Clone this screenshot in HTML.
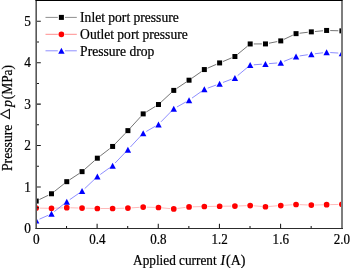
<!DOCTYPE html>
<html><head><meta charset="utf-8"><title>Pressure vs applied current</title>
<style>
html,body{margin:0;padding:0;background:#fff;}
svg{display:block;}
text{font-family:"Liberation Serif","Times New Roman",serif;font-size:14px;fill:#000;stroke:#000;stroke-width:0.22px;}
</style></head><body>
<svg width="350" height="268" viewBox="0 0 350 268">
<defs><clipPath id="c"><rect x="35.3" y="0" width="307.7" height="229"/></clipPath></defs>
<rect width="350" height="268" fill="#fff"/>
<g clip-path="url(#c)"><path d="M39.45 199.51L48.24 195.31M54.31 191.53L63.95 183.90M69.78 179.69L79.04 173.62M84.76 169.26L94.64 160.56M100.20 155.99L109.77 148.64M115.13 143.86L125.41 133.21M130.34 127.97L140.77 116.55M146.26 112.01L155.41 106.40M161.12 102.08L171.12 92.84M176.76 88.40L186.05 82.20M192.00 78.15L201.38 71.62M207.64 68.13L216.32 64.36M222.94 61.53L231.59 57.90M237.69 54.22L247.41 46.24M253.79 43.94L261.88 43.92M269.01 43.21L277.23 41.59M284.01 39.34L292.79 35.18M299.62 33.22L307.75 32.27M314.91 31.53L323.03 30.78M330.21 30.55L338.30 30.76" stroke="#000" stroke-width="0.55" fill="none" opacity="1"/><rect x="33.70" y="198.56" width="5.0" height="5.0" fill="#000"/><rect x="48.98" y="191.26" width="5.0" height="5.0" fill="#000"/><rect x="64.27" y="179.17" width="5.0" height="5.0" fill="#000"/><rect x="79.56" y="169.14" width="5.0" height="5.0" fill="#000"/><rect x="94.84" y="155.68" width="5.0" height="5.0" fill="#000"/><rect x="110.12" y="143.95" width="5.0" height="5.0" fill="#000"/><rect x="125.41" y="128.13" width="5.0" height="5.0" fill="#000"/><rect x="140.69" y="111.39" width="5.0" height="5.0" fill="#000"/><rect x="155.98" y="102.02" width="5.0" height="5.0" fill="#000"/><rect x="171.26" y="87.90" width="5.0" height="5.0" fill="#000"/><rect x="186.55" y="77.70" width="5.0" height="5.0" fill="#000"/><rect x="201.84" y="67.06" width="5.0" height="5.0" fill="#000"/><rect x="217.12" y="60.43" width="5.0" height="5.0" fill="#000"/><rect x="232.41" y="54.01" width="5.0" height="5.0" fill="#000"/><rect x="247.69" y="41.45" width="5.0" height="5.0" fill="#000"/><rect x="262.97" y="41.41" width="5.0" height="5.0" fill="#000"/><rect x="278.26" y="38.39" width="5.0" height="5.0" fill="#000"/><rect x="293.54" y="31.14" width="5.0" height="5.0" fill="#000"/><rect x="308.83" y="29.36" width="5.0" height="5.0" fill="#000"/><rect x="324.11" y="27.95" width="5.0" height="5.0" fill="#000"/><rect x="339.40" y="28.36" width="5.0" height="5.0" fill="#000"/><path d="M39.80 208.15L47.89 208.26M55.08 208.16L63.17 207.83M70.37 207.78L78.46 208.00M85.65 208.20L93.74 208.42M100.94 208.51L109.03 208.51M116.22 208.42L124.31 208.20M131.50 207.87L139.60 207.34M146.79 207.20L154.88 207.42M162.06 207.85L170.18 208.60M177.33 208.46L185.48 207.40M192.65 206.84L200.74 206.62M207.93 206.46L216.02 206.30M223.22 206.21L231.31 206.14M238.50 205.97L246.59 205.67M253.78 205.81L261.89 206.45M269.06 206.45L277.17 205.81M284.35 205.29L292.45 204.74M299.64 204.64L307.73 204.97M314.93 205.02L323.02 204.80M330.21 204.62L338.30 204.45" stroke="#f00" stroke-width="0.5" fill="none" opacity="0.55"/><circle cx="36.20" cy="208.10" r="2.85" fill="#f00"/><circle cx="51.48" cy="208.31" r="2.85" fill="#f00"/><circle cx="66.77" cy="207.69" r="2.85" fill="#f00"/><circle cx="82.06" cy="208.10" r="2.85" fill="#f00"/><circle cx="97.34" cy="208.51" r="2.85" fill="#f00"/><circle cx="112.62" cy="208.51" r="2.85" fill="#f00"/><circle cx="127.91" cy="208.10" r="2.85" fill="#f00"/><circle cx="143.19" cy="207.10" r="2.85" fill="#f00"/><circle cx="158.48" cy="207.52" r="2.85" fill="#f00"/><circle cx="173.76" cy="208.93" r="2.85" fill="#f00"/><circle cx="189.05" cy="206.94" r="2.85" fill="#f00"/><circle cx="204.34" cy="206.52" r="2.85" fill="#f00"/><circle cx="219.62" cy="206.23" r="2.85" fill="#f00"/><circle cx="234.91" cy="206.11" r="2.85" fill="#f00"/><circle cx="250.19" cy="205.53" r="2.85" fill="#f00"/><circle cx="265.47" cy="206.73" r="2.85" fill="#f00"/><circle cx="280.76" cy="205.53" r="2.85" fill="#f00"/><circle cx="296.04" cy="204.49" r="2.85" fill="#f00"/><circle cx="311.33" cy="205.12" r="2.85" fill="#f00"/><circle cx="326.61" cy="204.70" r="2.85" fill="#f00"/><circle cx="341.90" cy="204.37" r="2.85" fill="#f00"/><path d="M39.49 219.15L48.20 215.28M54.31 211.58L63.95 203.95M69.73 199.67L79.10 193.17M84.67 188.64L94.73 179.09M100.26 174.51L109.70 167.73M115.12 163.03L125.42 152.28M130.36 147.05L140.74 135.87M146.31 131.44L155.36 126.21M160.99 121.83L171.25 111.33M176.90 106.99L185.91 101.94M191.99 98.10L201.40 91.44M207.72 88.12L216.24 85.00M222.98 82.47L231.55 79.18M237.66 75.57L247.43 67.39M253.78 64.81L261.89 64.20M269.06 63.63L277.17 62.97M284.09 61.32L292.71 57.82M299.61 55.93L307.77 54.72M314.90 53.75L323.04 52.76M330.21 52.55L338.31 53.05" stroke="#00f" stroke-width="0.6" fill="none" opacity="0.75"/><path d="M33.00 223.61L39.40 223.61L36.20 217.61Z" fill="#00f"/><path d="M48.28 216.82L54.69 216.82L51.48 210.82Z" fill="#00f"/><path d="M63.57 204.72L69.97 204.72L66.77 198.72Z" fill="#00f"/><path d="M78.86 194.11L85.26 194.11L82.06 188.11Z" fill="#00f"/><path d="M94.14 179.61L100.54 179.61L97.34 173.61Z" fill="#00f"/><path d="M109.42 168.63L115.83 168.63L112.62 162.63Z" fill="#00f"/><path d="M124.71 152.68L131.11 152.68L127.91 146.68Z" fill="#00f"/><path d="M140.00 136.24L146.39 136.24L143.19 130.24Z" fill="#00f"/><path d="M155.28 127.41L161.68 127.41L158.48 121.41Z" fill="#00f"/><path d="M170.56 111.75L176.96 111.75L173.76 105.75Z" fill="#00f"/><path d="M185.85 103.17L192.25 103.17L189.05 97.17Z" fill="#00f"/><path d="M201.14 92.36L207.54 92.36L204.34 86.36Z" fill="#00f"/><path d="M216.42 86.77L222.82 86.77L219.62 80.77Z" fill="#00f"/><path d="M231.71 80.88L238.11 80.88L234.91 74.88Z" fill="#00f"/><path d="M246.99 68.08L253.39 68.08L250.19 62.08Z" fill="#00f"/><path d="M262.27 66.92L268.67 66.92L265.47 60.92Z" fill="#00f"/><path d="M277.56 65.68L283.96 65.68L280.76 59.68Z" fill="#00f"/><path d="M292.84 59.47L299.24 59.47L296.04 53.47Z" fill="#00f"/><path d="M308.13 57.19L314.53 57.19L311.33 51.19Z" fill="#00f"/><path d="M323.41 55.32L329.81 55.32L326.61 49.32Z" fill="#00f"/><path d="M338.70 56.28L345.10 56.28L341.90 50.28Z" fill="#00f"/></g>
<rect x="35" y="0" width="1" height="229" fill="#999"/><rect x="36" y="0" width="1" height="229" fill="#585858"/><rect x="341" y="0" width="2" height="229" fill="#7e7e7e"/><rect x="35.5" y="0" width="307" height="1" fill="#000"/><rect x="35.5" y="228" width="307.5" height="1" fill="#2c2c2c"/><path d="M37 207.69h2.0M37 186.97h3.8M37 166.25h2.0M37 145.54h3.8M37 124.83h2.0M37 104.11h3.8M37 83.40h2.0M37 62.68h3.8M37 41.97h2.0M37 21.25h3.8M66.53 228v-2.0M97.11 228v-4.3M127.69 228v-2.0M158.27 228v-4.3M188.85 228v-2.0M219.43 228v-4.3M250.01 228v-2.0M280.59 228v-4.3M311.17 228v-2.0" stroke="#1a1a1a" stroke-width="1.05" fill="none"/>
<g><text x="31" y="233.20" text-anchor="end" textLength="6.65" lengthAdjust="spacingAndGlyphs">0</text><text x="31" y="191.77" text-anchor="end" textLength="6.65" lengthAdjust="spacingAndGlyphs">1</text><text x="31" y="150.34" text-anchor="end" textLength="6.65" lengthAdjust="spacingAndGlyphs">2</text><text x="31" y="108.91" text-anchor="end" textLength="6.65" lengthAdjust="spacingAndGlyphs">3</text><text x="31" y="67.48" text-anchor="end" textLength="6.65" lengthAdjust="spacingAndGlyphs">4</text><text x="31" y="26.05" text-anchor="end" textLength="6.65" lengthAdjust="spacingAndGlyphs">5</text><text x="36.20" y="244" text-anchor="middle" textLength="6.65" lengthAdjust="spacingAndGlyphs">0</text><text x="97.34" y="244" text-anchor="middle" textLength="16.3" lengthAdjust="spacingAndGlyphs">0.4</text><text x="158.48" y="244" text-anchor="middle" textLength="16.3" lengthAdjust="spacingAndGlyphs">0.8</text><text x="219.62" y="244" text-anchor="middle" textLength="16.3" lengthAdjust="spacingAndGlyphs">1.2</text><text x="280.76" y="244" text-anchor="middle" textLength="16.3" lengthAdjust="spacingAndGlyphs">1.6</text><text x="341.90" y="244" text-anchor="middle" textLength="16.3" lengthAdjust="spacingAndGlyphs">2.0</text></g>
<g><path d="M45.5 17.4H57.8M65.0 17.4H76.8" stroke="#000" stroke-width="0.6" opacity="0.75"/><text x="80.1" y="22.2" textLength="98.6" lengthAdjust="spacingAndGlyphs">Inlet port pressure</text><path d="M45.5 34.3H57.8M65.0 34.3H76.8" stroke="#f00" stroke-width="0.6" opacity="0.75"/><text x="80.1" y="39.0" textLength="107.6" lengthAdjust="spacingAndGlyphs">Outlet port pressure</text><path d="M45.5 50.8H57.8M65.0 50.8H76.8" stroke="#00f" stroke-width="0.6" opacity="0.75"/><text x="80.1" y="55.5" textLength="74.2" lengthAdjust="spacingAndGlyphs">Pressure drop</text><rect x="58.90" y="14.90" width="5.0" height="5.0" fill="#000"/><circle cx="61.40" cy="34.30" r="2.85" fill="#f00"/><path d="M58.20 53.80L64.60 53.80L61.40 47.80Z" fill="#00f"/></g>
<text y="264.8"><tspan x="133.1" textLength="83.5" lengthAdjust="spacingAndGlyphs">Applied current</tspan> <tspan x="220.6" font-style="italic">I</tspan><tspan x="226">(A)</tspan></text>
<g transform="translate(11.5,171.0) rotate(-90)"><text y="0"><tspan x="0" textLength="46.4" lengthAdjust="spacingAndGlyphs">Pressure</tspan> <tspan x="50.5" dy="-1.6" style="font-family:IPAGothic,'Noto Sans CJK JP',sans-serif;font-size:13px">△</tspan><tspan x="64.0" dy="1.6" font-style="italic">p</tspan><tspan x="71.8" textLength="34.2" lengthAdjust="spacingAndGlyphs">(MPa)</tspan></text></g>
</svg>
</body></html>
